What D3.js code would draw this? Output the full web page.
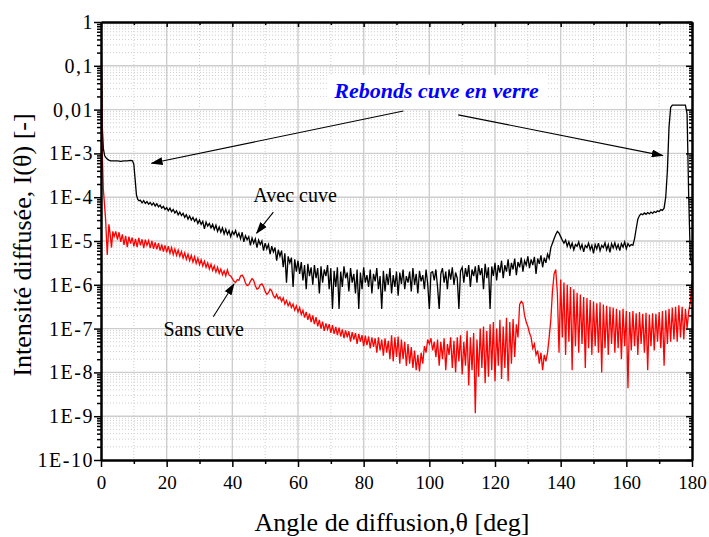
<!DOCTYPE html>
<html>
<head>
<meta charset="utf-8">
<script src="https://cdn.jsdelivr.net/npm/d3@7"></script>
<style>
  body { margin: 0; background: #fff; }
  svg text { font-family: "Liberation Serif", "Times New Roman", serif; }
</style>
</head>
<body>
<div id="canvas"></div>
<script>
// tick values / labels
const xTicks = [0, 20, 40, 60, 80, 100, 120, 140, 160, 180];
const xMinorTicks = [10, 30, 50, 70, 90, 110, 130, 150, 170];
const yTicks = [1, 1e-1, 1e-2, 1e-3, 1e-4, 1e-5, 1e-6, 1e-7, 1e-8, 1e-9, 1e-10];
const yTickLabels = ["1", "0,1", "0,01", "1E-3", "1E-4", "1E-5", "1E-6", "1E-7", "1E-8", "1E-9", "1E-10"];

// [angle (deg), log10 I(theta)]
const avecCuve = [
  [0, 0], [0.2, -1.2], [0.4, -2.4], [0.7, -2.88], [1.1, -3.05], [1.7, -3.12], [2.5, -3.16],
  [3, -3.17], [4, -3.17], [5, -3.17], [6, -3.18], [7, -3.17], [8, -3.17], [9, -3.16], [9.6, -3.17],
  [10, -3.25], [10.4, -3.6], [10.8, -3.95], [11.2, -4.05], [11.6, -4.08], [12, -4.07], [12.5, -4.13],
  [13, -4.08], [13.5, -4.14], [14, -4.10], [14.5, -4.16], [15, -4.12], [15.5, -4.18], [16, -4.13],
  [16.5, -4.20], [17, -4.15], [17.5, -4.22], [18, -4.18], [18.5, -4.25], [19, -4.21], [19.5, -4.28],
  [20, -4.24], [20.5, -4.31], [21, -4.25], [21.5, -4.33], [22, -4.28], [22.5, -4.36], [23, -4.31],
  [23.5, -4.40], [24, -4.34], [24.5, -4.42], [25, -4.37], [25.5, -4.46], [26, -4.40], [26.5, -4.50],
  [27, -4.43], [27.5, -4.52], [28, -4.46], [28.5, -4.55], [29, -4.49], [29.5, -4.60], [30, -4.52],
  [30.5, -4.62], [31, -4.55], [31.5, -4.72], [32, -4.57], [32.5, -4.66], [33, -4.60], [33.5, -4.70],
  [34, -4.62], [34.5, -4.74], [35, -4.64], [35.5, -4.78], [36, -4.68], [36.5, -4.80], [37, -4.70],
  [37.5, -4.84], [38, -4.73], [38.5, -4.85], [39, -4.76], [39.5, -4.90], [40, -4.78],
  [40.5, -4.85], [41, -4.76], [41.5, -4.90], [42, -4.82], [42.5, -4.95], [43, -4.80], [43.5, -5.02],
  [44, -4.88], [44.5, -4.97], [45, -4.90], [45.5, -5.10], [46, -4.93], [46.5, -5.05], [47, -4.95],
  [47.5, -5.15], [48, -4.98], [48.5, -5.08], [49, -5.00], [49.5, -5.22], [50, -5.05], [50.5, -5.18],
  [51, -5.08], [51.5, -5.30], [52, -5.12], [52.5, -5.25], [53, -5.15], [53.5, -5.45], [54, -5.20],
  [54.5, -5.35], [55, -5.22], [55.5, -5.60], [56, -5.28], [56.5, -5.95], [57, -5.35], [57.5, -5.50],
  [58, -5.38], [58.5, -6.05], [59, -5.42], [59.5, -5.70], [60, -5.45],
  [60.5, -5.75], [61, -5.48], [61.5, -5.90], [62, -5.55], [62.5, -6.10], [63, -5.52], [63.5, -5.80],
  [64, -5.60], [64.5, -6.00], [65, -5.55], [65.5, -5.85], [66, -5.62], [66.5, -6.20], [67, -5.58],
  [67.5, -5.95], [68, -5.65], [68.5, -5.80], [69, -5.55], [69.5, -6.10], [70, -5.62], [70.5, -6.55],
  [71, -5.68], [71.5, -6.05], [72, -5.60], [72.5, -6.55], [73, -5.70], [73.5, -6.05], [74, -5.58],
  [74.5, -5.85], [75, -5.72], [75.5, -6.15], [76, -5.62], [76.5, -5.95], [77, -5.75], [77.5, -6.20],
  [78, -5.65], [78.5, -6.55], [79, -5.72], [79.5, -6.10], [80, -5.60], [80.5, -5.95], [81, -5.78],
  [81.5, -6.05], [82, -5.65], [82.5, -6.20], [83, -5.75], [83.5, -5.92], [84, -5.62], [84.5, -6.10],
  [85, -5.80], [85.5, -6.55], [86, -5.68], [86.5, -6.15], [87, -5.75], [87.5, -6.00], [88, -5.62],
  [88.5, -6.20], [89, -5.78], [89.5, -6.05], [90, -5.70], [90.5, -6.25], [91, -5.72], [91.5, -5.98],
  [92, -5.65], [92.5, -6.10], [93, -5.80], [93.5, -5.95], [94, -5.70], [94.5, -6.15], [95, -5.62],
  [95.5, -6.00], [96, -5.75], [96.5, -6.20], [97, -5.68], [97.5, -5.92], [98, -5.78], [98.5, -6.10],
  [99, -5.65], [99.5, -5.98], [100, -6.55],
  [100.5, -5.72], [101, -5.70], [101.5, -5.90], [102, -5.65], [102.5, -6.05], [103, -6.55], [103.5, -5.75],
  [104, -5.62], [104.5, -5.95], [105, -5.70], [105.5, -6.10], [106, -5.65], [106.5, -5.88], [107, -5.60],
  [107.5, -6.00], [108, -5.72], [108.5, -5.85], [109, -6.55], [109.5, -5.68], [110, -5.60], [110.5, -5.95],
  [111, -5.62], [111.5, -5.82], [112, -5.55], [112.5, -6.05], [113, -5.65], [113.5, -5.80], [114, -5.58],
  [114.5, -5.95], [115, -5.55], [115.5, -5.78], [116, -5.62], [116.5, -6.10], [117, -5.52], [117.5, -5.85],
  [118, -5.60], [118.5, -6.55], [119, -5.58], [119.5, -5.80], [120, -5.50], [120.5, -5.90], [121, -5.55],
  [121.5, -5.72], [122, -5.45], [122.5, -5.85], [123, -5.55], [123.5, -5.70], [124, -5.42], [124.5, -5.80],
  [125, -5.50], [125.5, -5.65], [126, -5.40], [126.5, -5.78], [127, -5.48], [127.5, -5.60], [128, -5.38],
  [128.5, -5.70], [129, -5.45], [129.5, -5.55], [130, -5.35], [130.5, -5.62], [131, -5.42], [131.5, -5.55],
  [132, -5.36], [132.5, -5.75], [133, -5.40], [133.5, -5.52], [134, -5.33], [134.5, -5.60], [135, -5.38],
  [135.5, -5.50], [136, -5.30], [136.5, -5.40], [137, -5.15], [137.5, -5.05], [138, -4.95], [138.5, -4.85],
  [139, -4.78], [139.5, -4.82], [140, -4.90],
  [140.5, -4.98], [141, -5.05], [141.5, -4.98], [142, -5.12], [142.5, -5.02], [143, -5.15], [143.5, -5.05],
  [144, -5.20], [144.5, -5.08], [145, -5.12], [145.5, -5.02], [146, -5.18], [146.5, -5.08], [147, -5.25],
  [147.5, -5.10], [148, -5.15], [148.5, -5.05], [149, -5.20], [149.5, -5.10], [150, -5.28], [150.5, -5.08],
  [151, -5.18], [151.5, -5.05], [152, -5.22], [152.5, -5.10], [153, -5.15], [153.5, -5.04], [154, -5.20],
  [154.5, -5.08], [155, -5.26], [155.5, -5.06], [156, -5.16], [156.5, -5.04], [157, -5.18], [157.5, -5.08],
  [158, -5.22], [158.5, -5.06], [159, -5.14], [159.5, -5.02], [160, -5.18], [160.5, -5.06], [161, -5.12],
  [161.5, -5.08], [162, -5.10], [162.5, -4.95], [163, -4.72], [163.5, -4.50], [164, -4.42], [164.5, -4.38],
  [165, -4.40], [165.5, -4.36], [166, -4.39], [166.5, -4.35], [167, -4.38], [167.5, -4.34], [168, -4.37],
  [168.5, -4.33], [169, -4.35], [169.5, -4.31], [170, -4.33], [170.5, -4.28], [171, -4.30], [171.5, -4.25],
  [172, -4.0], [172.5, -3.4], [173, -2.4], [173.5, -1.95], [174, -1.90], [175, -1.90], [176, -1.90],
  [177, -1.90], [178, -1.90], [178.5, -2.1], [179, -4.0], [179.5, -5.4], [180, -5.55]
];

const sansCuve = [
  [0, 0], [0.2, -1.5], [0.4, -3.0], [0.7, -3.8], [1.0, -4.1], [1.4, -4.5], [1.9, -5.32], [2.4, -4.62],
  [2.8, -4.85], [3.2, -5.15], [3.6, -4.78], [4, -4.90], [4.5, -4.78], [5, -4.97], [5.5, -4.80], [6, -5.02],
  [6.5, -4.85], [7, -5.09], [7.5, -4.88], [8, -5.14], [8.5, -4.90], [9, -5.06], [9.5, -4.92], [10, -5.12],
  [10.5, -4.95], [11, -5.14], [11.5, -4.93], [12, -5.10], [12.5, -4.96], [13, -5.16], [13.5, -4.97],
  [14, -5.10], [14.5, -4.99], [15, -5.16], [15.5, -5.00], [16, -5.18], [16.5, -5.03], [17, -5.19],
  [17.5, -5.05], [18, -5.22], [18.5, -5.08], [19, -5.24], [19.5, -5.10], [20, -5.26], [20.5, -5.12],
  [21, -5.28], [21.5, -5.15], [22, -5.31], [22.5, -5.18], [23, -5.33], [23.5, -5.21], [24, -5.35],
  [24.5, -5.24], [25, -5.39], [25.5, -5.27], [26, -5.42], [26.5, -5.30], [27, -5.45], [27.5, -5.33],
  [28, -5.48], [28.5, -5.36], [29, -5.51], [29.5, -5.39], [30, -5.54], [30.5, -5.43], [31, -5.57],
  [31.5, -5.46], [32, -5.60], [32.5, -5.50], [33, -5.64], [33.5, -5.53], [34, -5.67], [34.5, -5.57],
  [35, -5.71], [35.5, -5.60], [36, -5.74], [36.5, -5.64], [37, -5.77], [37.5, -5.68], [38, -5.80],
  [38.5, -5.66], [39, -5.78], [39.5, -5.80],
  [40, -5.86], [40.5, -5.92], [41, -5.95], [41.5, -5.88], [42, -5.90], [42.5, -5.80], [43, -5.78],
  [43.5, -5.84], [44, -5.96], [44.5, -6.02], [45, -6.00], [45.5, -5.92], [46, -5.86], [46.5, -5.90],
  [47, -6.02], [47.5, -6.10], [48, -6.08], [48.5, -6.00], [49, -5.98], [49.5, -6.04], [50, -6.15],
  [50.5, -6.22], [51, -6.18], [51.5, -6.10], [52, -6.14], [52.5, -6.25], [53, -6.30], [53.5, -6.22],
  [54, -6.32], [54.5, -6.28], [55, -6.38], [55.5, -6.30], [56, -6.44], [56.5, -6.36], [57, -6.48],
  [57.5, -6.40], [58, -6.52], [58.5, -6.44], [59, -6.58], [59.5, -6.48], [60, -6.62],
  [60.5, -6.52], [61, -6.68], [61.5, -6.58], [62, -6.75], [62.5, -6.62], [63, -6.80], [63.5, -6.66],
  [64, -6.85], [64.5, -6.70], [65, -6.90], [65.5, -6.74], [66, -6.95], [66.5, -6.80], [67, -7.00],
  [67.5, -6.84], [68, -7.05], [68.5, -6.88], [69, -7.02], [69.5, -6.90], [70, -7.10], [70.5, -6.92],
  [71, -7.12], [71.5, -6.96], [72, -7.15], [72.5, -6.98], [73, -7.18], [73.5, -7.02], [74, -7.22],
  [74.5, -7.04], [75, -7.20], [75.5, -7.06], [76, -7.30], [76.5, -7.08], [77, -7.25], [77.5, -7.10],
  [78, -7.35], [78.5, -7.12], [79, -7.30], [79.5, -7.15], [80, -7.40], [80.5, -7.16], [81, -7.38],
  [81.5, -7.18], [82, -7.45], [82.5, -7.20], [83, -7.42], [83.5, -7.22], [84, -7.55], [84.5, -7.20],
  [85, -7.50], [85.5, -7.25], [86, -7.62], [86.5, -7.22], [87, -7.55], [87.5, -7.28], [88, -7.70],
  [88.5, -7.15], [89, -7.75], [89.5, -7.20], [90, -7.65], [90.5, -7.18], [91, -7.80], [91.5, -7.25],
  [92, -7.70], [92.5, -7.30], [93, -7.85], [93.5, -7.35], [94, -7.80], [94.5, -7.42], [95, -7.90],
  [95.5, -7.50], [96, -7.95], [96.5, -7.60], [97, -7.98], [97.5, -7.55], [98, -7.80], [98.5, -7.40],
  [99, -7.55], [99.5, -7.25], [100, -7.35], [100.5, -7.22],
  [101, -7.50], [101.5, -7.30], [102, -7.65], [102.5, -7.25], [103, -7.85], [103.5, -7.30], [104, -7.70],
  [104.5, -7.22], [105, -7.95], [105.5, -7.35], [106, -7.60], [106.5, -7.20], [107, -7.90], [107.5, -7.28],
  [108, -8.00], [108.5, -7.20], [109, -7.75], [109.5, -7.15], [110, -8.05], [110.5, -7.30], [111, -7.85],
  [111.5, -7.05], [112, -8.30], [112.5, -7.20], [113, -7.95], [113.5, -7.10], [114, -8.93], [114.5, -7.25],
  [115, -8.10], [115.5, -7.00], [116, -7.90], [116.5, -6.95], [117, -8.25], [117.5, -7.05], [118, -8.10],
  [118.5, -6.90], [119, -7.95], [119.5, -6.85], [120, -8.20], [120.5, -7.00], [121, -7.85], [121.5, -6.80],
  [122, -8.15], [122.5, -6.95], [123, -7.90], [123.5, -6.75], [124, -8.20], [124.5, -6.85], [125, -7.80],
  [125.5, -6.78], [126, -7.65], [126.5, -6.90], [127, -7.20], [127.5, -6.45], [128, -6.38], [128.5, -6.42],
  [129, -6.70], [129.5, -6.85], [130, -6.95], [130.5, -7.10], [131, -7.20], [131.5, -7.45], [132, -7.35],
  [132.5, -7.60], [133, -7.50], [133.5, -7.80], [134, -7.55], [134.5, -7.95], [135, -7.60], [135.5, -7.75],
  [136, -7.55], [136.5, -7.20], [137, -6.80], [137.5, -6.15], [138, -5.75], [138.5, -5.65], [139, -6.20],
  [139.5, -7.55], [140, -5.88], [140.5, -7.20], [141, -5.95], [141.5, -7.60], [142, -6.00], [142.5, -7.30],
  [143, -6.05], [143.5, -7.95], [144, -6.10], [144.5, -7.40], [145, -6.18], [145.5, -7.55], [146, -6.22],
  [146.5, -7.35], [147, -6.28], [147.5, -7.90], [148, -6.30], [148.5, -7.45], [149, -6.35], [149.5, -7.60],
  [150, -6.38], [150.5, -7.40], [151, -6.42], [151.5, -7.55], [152, -6.40], [152.5, -8.00], [153, -6.45],
  [153.5, -7.45], [154, -6.48], [154.5, -7.60], [155, -6.50], [155.5, -7.35], [156, -6.52], [156.5, -7.55],
  [157, -6.55], [157.5, -7.45], [158, -6.58], [158.5, -7.70], [159, -6.55], [159.5, -7.40], [160, -6.60],
  [160.5, -8.36], [161, -6.62], [161.5, -7.50], [162, -6.60], [162.5, -7.40], [163, -6.65], [163.5, -7.60],
  [164, -6.62], [164.5, -7.35], [165, -6.66], [165.5, -7.55], [166, -6.64], [166.5, -7.95], [167, -6.68],
  [167.5, -7.40], [168, -6.65], [168.5, -7.50], [169, -6.66], [169.5, -7.30], [170, -6.62], [170.5, -7.45],
  [171, -6.60], [171.5, -7.85], [172, -6.58], [172.5, -7.35], [173, -6.55], [173.5, -7.30], [174, -6.52],
  [174.5, -7.25], [175, -6.50], [175.5, -7.30], [176, -6.47], [176.5, -7.20], [177, -6.50], [177.5, -7.25],
  [178, -6.55], [178.5, -7.00], [179, -6.60], [179.5, -6.40], [180, -5.90]
];

const margin = { top: 22, right: 17, bottom: 77, left: 101 },
    width = 709 - margin.left - margin.right,
    height = 537 - margin.top - margin.bottom;

const root = d3.select("#canvas")
    .append("svg")
    .attr("width", width + margin.left + margin.right)
    .attr("height", height + margin.top + margin.bottom)
    .style("font-family", "'Liberation Serif', 'Times New Roman', serif");

const defs = root.append("defs");
defs.append("clipPath").attr("id", "clip")
    .append("rect").attr("width", width).attr("height", height);
defs.append("marker")
    .attr("id", "arrow")
    .attr("markerUnits", "userSpaceOnUse")
    .attr("markerWidth", 12).attr("markerHeight", 8)
    .attr("refX", 11).attr("refY", 4)
    .attr("orient", "auto")
    .append("path").attr("d", "M0,0 L12,4 L0,8 z").attr("fill", "#000");

const svg = root.append("g")
    .attr("transform", `translate(${margin.left},${margin.top})`);

const x = d3.scaleLinear().domain([0, 180]).range([0, width]);
const y = d3.scaleLog().domain([1e-10, 1]).range([height, 0]);

// minor log values 2..9 per decade
const yMinor = [];
for (let e = -10; e < 0; e++) {
    for (let k = 2; k <= 9; k++) yMinor.push(k * Math.pow(10, e));
}

// grid
const grid = svg.append("g");
grid.selectAll(".ymin").data(yMinor).join("line")
    .attr("x1", 0).attr("x2", width)
    .attr("y1", d => y(d)).attr("y2", d => y(d))
    .attr("stroke", "#cfcfcf").attr("stroke-dasharray", "1,2");
grid.selectAll(".xmin").data(xMinorTicks).join("line")
    .attr("x1", d => x(d)).attr("x2", d => x(d))
    .attr("y1", 0).attr("y2", height)
    .attr("stroke", "#cfcfcf").attr("stroke-dasharray", "1,2");
grid.selectAll(".ymaj").data(yTicks.slice(1, -1)).join("line")
    .attr("x1", 0).attr("x2", width)
    .attr("y1", d => y(d)).attr("y2", d => y(d))
    .attr("stroke", "#cdcdcd").attr("stroke-width", 1.4);
grid.selectAll(".xmaj").data(xTicks.slice(1, -1)).join("line")
    .attr("x1", d => x(d)).attr("x2", d => x(d))
    .attr("y1", 0).attr("y2", height)
    .attr("stroke", "#cdcdcd").attr("stroke-width", 1.4);

// white box behind the blue label
svg.append("rect")
    .attr("x", x(68.8)).attr("y", y(Math.pow(10, -1.21)))
    .attr("width", x(136.1) - x(68.8))
    .attr("height", y(Math.pow(10, -1.99)) - y(Math.pow(10, -1.21)))
    .attr("fill", "#fff");

// curves
const line = d3.line()
    .x(d => x(d[0]))
    .y(d => y(Math.pow(10, d[1])));

const curves = svg.append("g").attr("clip-path", "url(#clip)");
curves.append("path")
    .datum(avecCuve)
    .attr("fill", "none")
    .attr("stroke", "#000")
    .attr("stroke-width", 1.3)
    .attr("d", line);
curves.append("path")
    .datum(sansCuve)
    .attr("fill", "none")
    .attr("stroke", "#ff0000")
    .attr("stroke-width", 1.3)
    .attr("d", line);

// axes
function styleAxis(g) {
    g.attr("font-family", null);
    g.selectAll(".domain").attr("stroke-width", 2);
    g.selectAll(".tick line").attr("stroke-width", 1.5);
    g.selectAll("text").attr("font-size", 19).attr("fill", "#000");
}

svg.append("g")
    .attr("transform", `translate(0,${height})`)
    .call(d3.axisBottom(x).tickValues(xMinorTicks).tickSize(4).tickSizeOuter(0).tickFormat(""))
    .call(styleAxis);
svg.append("g")
    .attr("transform", `translate(0,${height})`)
    .call(d3.axisBottom(x).tickValues(xTicks).tickSize(7).tickPadding(9).tickSizeOuter(0))
    .call(styleAxis);

svg.append("g")
    .call(d3.axisTop(x).tickValues(xMinorTicks).tickSize(-3).tickSizeOuter(0).tickFormat(""))
    .call(styleAxis);
svg.append("g")
    .call(d3.axisTop(x).tickValues(xTicks).tickSize(-5).tickSizeOuter(0).tickFormat(""))
    .call(styleAxis);

svg.append("g")
    .call(d3.axisLeft(y).tickValues(yMinor).tickSize(4).tickSizeOuter(0).tickFormat(""))
    .call(styleAxis);
svg.append("g")
    .call(d3.axisLeft(y).tickValues(yTicks).tickSize(7).tickPadding(0).tickSizeOuter(0)
        .tickFormat((d, i) => yTickLabels[i]))
    .call(styleAxis)
    .call(g => g.selectAll("text").attr("font-size", 20).attr("letter-spacing", 1.5));

svg.append("g")
    .attr("transform", `translate(${width},0)`)
    .call(d3.axisRight(y).tickValues(yMinor).tickSize(-3).tickSizeOuter(0).tickFormat(""))
    .call(styleAxis);
svg.append("g")
    .attr("transform", `translate(${width},0)`)
    .call(d3.axisRight(y).tickValues(yTicks).tickSize(-6).tickSizeOuter(0).tickFormat(""))
    .call(styleAxis);

// axis titles
root.append("text")
    .attr("x", 392).attr("y", 531)
    .attr("text-anchor", "middle")
    .attr("font-size", 26)
    .text("Angle de diffusion,θ [deg]");

root.append("text")
    .attr("transform", "translate(31,245) rotate(-90)")
    .attr("text-anchor", "middle")
    .attr("font-size", 26)
    .text("Intensité diffusée, I(θ) [-]");

// annotations
const P = (deg, lg) => [x(deg), y(Math.pow(10, lg))];

function arrow(from, to) {
    const a = P(from[0], from[1]), b = P(to[0], to[1]);
    svg.append("line")
        .attr("x1", a[0]).attr("y1", a[1])
        .attr("x2", b[0]).attr("y2", b[1])
        .attr("stroke", "#000").attr("stroke-width", 1.1)
        .attr("marker-end", "url(#arrow)");
}

const rb = P(102.2, -1.742);
svg.append("text")
    .attr("x", rb[0]).attr("y", rb[1])
    .attr("text-anchor", "middle")
    .attr("font-size", 22)
    .attr("font-weight", "bold")
    .attr("font-style", "italic")
    .attr("fill", "#0000ff")
    .text("Rebonds cuve en verre");
arrow([92.1, -2.03], [15.4, -3.226]);
arrow([108.8, -2.12], [171.1, -3.05]);

const av = P(46.4, -4.10);
svg.append("text")
    .attr("x", av[0]).attr("y", av[1])
    .attr("font-size", 20)
    .text("Avec cuve");
arrow([52.5, -4.34], [47.4, -4.82]);

const sc = P(19.0, -7.18);
svg.append("text")
    .attr("x", sc[0]).attr("y", sc[1])
    .attr("font-size", 20)
    .text("Sans cuve");
arrow([34.2, -6.73], [40.5, -5.98]);
</script>
</body>
</html>
